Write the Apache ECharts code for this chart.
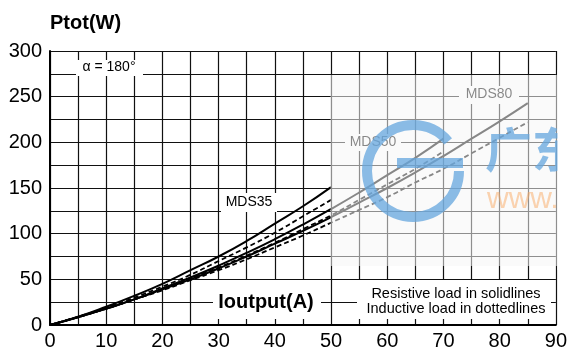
<!DOCTYPE html>
<html>
<head>
<meta charset="utf-8">
<script src="https://cdn.jsdelivr.net/npm/echarts@6/dist/echarts.min.js"></script>
<style>
  html, body { margin: 0; padding: 0; background: #fff; }
  #chart { width: 570px; height: 352px; }
</style>
</head>
<body>
<div id="chart"></div>
<script>
// currents (A) and dissipated power (W)
var amps35 = [0, 5, 10, 15, 20, 25, 30, 35, 40, 45, 50];
var mds35Res = [0, 9, 20, 32, 45, 60, 75, 92, 111, 130, 151];
var mds35Ind = [0, 9, 19, 30, 42, 55, 70, 85, 101, 119, 137];

var amps50 = [0, 5, 10, 15, 20, 25, 30, 35, 40, 45, 50, 55, 60, 65, 70];
var mds50Res = [0, 8.5, 18, 28, 40, 52, 65, 79, 94, 110, 127, 145, 164, 183, 204];
var mds50Ind = [0, 8.6, 18, 28, 39, 51, 63, 76, 90, 105, 120, 137, 154, 171, 190];

var amps80 = [0, 5, 10, 15, 20, 25, 30, 35, 40, 45, 50, 55, 60, 65, 70, 75, 80, 85];
var mds80Res = [0, 8.6, 18, 28, 39, 50, 62, 75, 89, 103, 118, 134, 150, 167, 185, 204, 223, 243];
var mds80Ind = [0, 8.7, 18, 28, 38, 49, 60, 72, 85, 98, 112, 126, 140, 156, 171, 188, 205, 222];

var xTicks = [0, 10, 20, 30, 40, 50, 60, 70, 80, 90];
var yTicks = [0, 50, 100, 150, 200, 250, 300];

var FONT = '"Liberation Sans", Arial, Helvetica, sans-serif';

function pairs(xs, ys) {
  return xs.map(function (x, i) { return [x, ys[i]]; });
}

function curve(name, xs, ys, dashed) {
  return {
    name: name,
    type: 'line',
    data: pairs(xs, ys),
    smooth: true,
    symbol: 'none',
    lineStyle: {
      color: '#000',
      width: dashed ? 1.8 : 2,
      type: dashed ? [5, 3] : 'solid'
    },
    z: 3
  };
}

// text sitting on a white patch that hides the grid behind it
function label(text, cx, cy, box, font, color) {
  return [
    { type: 'rect', z: 10, shape: { x: box[0], y: box[1], width: box[2] - box[0], height: box[3] - box[1] },
      style: { fill: '#fff' } },
    { type: 'text', z: 11, style: { text: text, x: cx, y: cy, font: font, fill: color || '#000',
      align: 'center', verticalAlign: 'middle', textAlign: 'center', textVerticalAlign: 'middle' } }
  ];
}

var chart = echarts.init(document.getElementById('chart'));

var graphics = [];
graphics.push({ type: 'text', z: 11, style: { text: 'Ptot(W)', x: 50, y: 23, font: 'bold 20px ' + FONT, fill: '#000',
  align: 'left', verticalAlign: 'middle', textAlign: 'left', textVerticalAlign: 'middle' } });
graphics = graphics.concat(label('\u03b1 = 180\u00b0', 109, 67, [76, 60, 143, 76], '14px ' + FONT));
graphics = graphics.concat(label('MDS35', 249, 202, [221, 193, 277, 212], '14px ' + FONT));
graphics = graphics.concat(label('MDS50', 373, 142, [345, 134, 401, 151], '14px ' + FONT));
graphics = graphics.concat(label('MDS80', 489, 94, [459, 86, 519, 104], '14px ' + FONT));
graphics = graphics.concat(label('Ioutput(A)', 266, 302, [213, 280, 321, 319], 'bold 20px ' + FONT));
graphics = graphics.concat(label('Resistive load in solidlines\nInductive load in dottedlines', 456, 301,
  [357, 280, 551, 319], '14.5px ' + FONT));

// washed-out watermark panel on the right
graphics.push({ type: 'rect', z: 20, shape: { x: 330.5, y: 75, width: 227, height: 191 },
  style: { fill: 'rgba(246,246,246,0.55)' } });
graphics.push({ type: 'arc', z: 21, shape: { cx: 413, cy: 171, r: 46, startAngle: 0, endAngle: Math.PI * 2 - 0.7, clockwise: true },
  style: { stroke: 'rgba(100,165,222,0.75)', lineWidth: 10, fill: 'none' } });
graphics.push({ type: 'rect', z: 21, shape: { x: 397, y: 158, width: 66, height: 10 },
  style: { fill: 'rgba(100,165,222,0.75)' } });
graphics.push({ type: 'text', z: 21, style: { text: '\u5e7f\u4e1c', x: 485, y: 149, font: 'bold 47px "Noto Sans CJK SC"',
  fill: 'rgba(100,165,222,0.75)', align: 'left', verticalAlign: 'middle', textAlign: 'left', textVerticalAlign: 'middle' } });
graphics.push({ type: 'text', z: 21, style: { text: 'www.', x: 487, y: 200, font: '30px ' + FONT,
  fill: 'rgba(250,170,100,0.5)', align: 'left', verticalAlign: 'middle', textAlign: 'left', textVerticalAlign: 'middle' } });
graphics.push({ type: 'rect', z: 22, shape: { x: 557.5, y: 70, width: 14, height: 200 }, style: { fill: '#fff' } });

var option = {
  animation: false,
  backgroundColor: '#fff',
  grid: { left: 50, right: 14, top: 51, bottom: 27, containLabel: false },
  xAxis: {
    type: 'value', min: 0, max: 90, interval: 5,
    axisLine: { show: true, lineStyle: { color: '#000', width: 2 } },
    axisTick: { show: false },
    axisLabel: {
      color: '#000', fontSize: 20, fontFamily: FONT, margin: 6,
      formatter: function (v) { return xTicks.indexOf(v) >= 0 ? String(v) : ''; }
    },
    splitLine: { show: true, lineStyle: { color: '#111', width: 1.2 } }
  },
  yAxis: {
    type: 'value', min: 0, max: 300, interval: 25,
    axisLine: { show: true, lineStyle: { color: '#000', width: 2 } },
    axisTick: { show: false },
    axisLabel: {
      color: '#000', fontSize: 20, fontFamily: FONT, margin: 8,
      formatter: function (v) { return yTicks.indexOf(v) >= 0 ? String(v) : ''; }
    },
    splitLine: { show: true, lineStyle: { color: '#111', width: 1.2 } }
  },
  series: [
    curve('MDS35 resistive', amps35, mds35Res, false),
    curve('MDS35 inductive', amps35, mds35Ind, true),
    curve('MDS50 resistive', amps50, mds50Res, false),
    curve('MDS50 inductive', amps50, mds50Ind, true),
    curve('MDS80 resistive', amps80, mds80Res, false),
    curve('MDS80 inductive', amps80, mds80Ind, true)
  ],
  graphic: graphics
};

chart.setOption(option);
</script>
</body>
</html>
